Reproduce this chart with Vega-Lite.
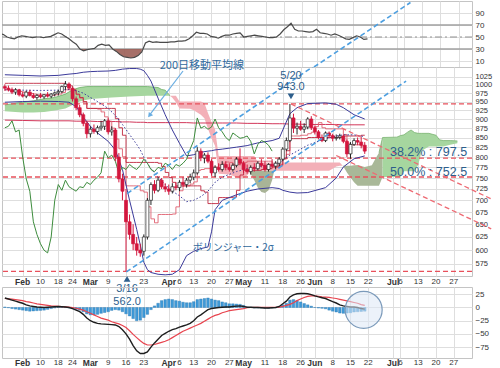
{
"$schema":"https://vega.github.io/schema/vega-lite/v6.json",
"padding":0,
"background":"white",
"config":{"view":{"stroke":"#c4c4c4"},"axis":{"labelFont":"Liberation Sans","labelFontSize":8,"labelColor":"#333","gridColor":"#dedede","ticks":false,"domain":false,"labelOverlap":false,"tickCount":100}},
"datasets":{
"d":[
{"i":-5,"o":995,"h":1002,"l":982,"c":990,"ck":876,"tk":985,"kj":1005,"rsi":56,"m":18,"s":17,"hist":1},
{"i":-4,"o":990,"h":998,"l":980,"c":985,"ck":880,"tk":985,"kj":1005,"rsi":54,"m":16,"s":16.5,"hist":-0.5},
{"i":-3,"o":985,"h":992,"l":972,"c":978,"ck":895,"tk":984,"kj":1005,"rsi":50,"m":14,"s":16,"hist":-2},
{"i":-2,"o":978,"h":990,"l":970,"c":985,"ck":865,"tk":982,"kj":1005,"rsi":48,"m":12,"s":15,"hist":-3},
{"i":-1,"o":985,"h":988,"l":965,"c":970,"ck":870,"tk":980,"kj":1005,"rsi":47,"m":10,"s":14,"hist":-4},
{"i":0,"o":970,"h":978,"l":962,"c":966,"ck":800,"tk":978,"kj":1005,"rsi":50,"m":8,"s":13,"hist":-5},
{"i":1,"o":966,"h":982,"l":960,"c":978,"ck":748,"tk":976,"kj":1005,"rsi":52,"m":5,"s":11,"hist":-6},
{"i":2,"o":978,"h":985,"l":965,"c":968,"ck":720,"tk":974,"kj":1005,"rsi":51,"m":3,"s":10,"hist":-7},
{"i":3,"o":968,"h":975,"l":958,"c":962,"ck":655,"tk":972,"kj":1005,"rsi":50,"m":2,"s":8.5,"hist":-6.5},
{"i":4,"o":962,"h":972,"l":955,"c":968,"ck":630,"tk":970,"kj":1005,"rsi":49,"m":1,"s":7,"hist":-6},
{"i":5,"o":968,"h":975,"l":960,"c":964,"ck":612,"tk":970,"kj":1005,"rsi":50,"m":0.5,"s":6,"hist":-5.5},
{"i":6,"o":964,"h":972,"l":958,"c":970,"ck":600,"tk":970,"kj":1005,"rsi":50,"m":0,"s":5,"hist":-5},
{"i":7,"o":970,"h":978,"l":962,"c":966,"ck":595,"tk":970,"kj":1005,"rsi":49,"m":0.5,"s":4,"hist":-3.5},
{"i":8,"o":966,"h":975,"l":960,"c":972,"ck":625,"tk":968,"kj":1005,"rsi":50,"m":1,"s":3,"hist":-2},
{"i":9,"o":972,"h":980,"l":965,"c":976,"ck":700,"tk":970,"kj":1005,"rsi":51,"m":1.5,"s":2.5,"hist":-1},
{"i":10,"o":976,"h":985,"l":968,"c":980,"ck":735,"tk":972,"kj":1005,"rsi":54,"m":2,"s":2,"hist":0},
{"i":11,"o":980,"h":998,"l":975,"c":995,"ck":722,"tk":977,"kj":1005,"rsi":57,"m":1.5,"s":1.5,"hist":0},
{"i":12,"o":995,"h":1012,"l":985,"c":1003,"ck":745,"tk":985,"kj":1000,"rsi":55,"m":1,"s":1.2,"hist":-0.2},
{"i":13,"o":1003,"h":1008,"l":985,"c":990,"ck":730,"tk":985,"kj":997,"rsi":51,"m":0,"s":0.8,"hist":-0.8},
{"i":14,"o":990,"h":992,"l":950,"c":958,"ck":725,"tk":983,"kj":985,"rsi":47,"m":-2,"s":0,"hist":-2},
{"i":15,"o":958,"h":965,"l":925,"c":932,"ck":720,"tk":970,"kj":972,"rsi":42,"m":-5,"s":-1.5,"hist":-3.5},
{"i":16,"o":932,"h":940,"l":905,"c":912,"ck":730,"tk":960,"kj":962,"rsi":38,"m":-8,"s":-3,"hist":-5},
{"i":17,"o":912,"h":918,"l":880,"c":888,"ck":728,"tk":946,"kj":950,"rsi":30,"m":-13,"s":-5,"hist":-8},
{"i":18,"o":888,"h":895,"l":848,"c":860,"ck":740,"tk":930,"kj":930,"rsi":27,"m":-20,"s":-8,"hist":-12},
{"i":19,"o":860,"h":880,"l":850,"c":872,"ck":735,"tk":930,"kj":930,"rsi":29,"m":-25,"s":-11,"hist":-14},
{"i":20,"o":872,"h":885,"l":860,"c":866,"ck":745,"tk":930,"kj":930,"rsi":30,"m":-28,"s":-14,"hist":-14},
{"i":21,"o":866,"h":882,"l":858,"c":876,"ck":752,"tk":928,"kj":930,"rsi":31,"m":-30,"s":-17,"hist":-13},
{"i":22,"o":876,"h":895,"l":868,"c":880,"ck":762,"tk":920,"kj":930,"rsi":36,"m":-31,"s":-20,"hist":-11},
{"i":23,"o":880,"h":900,"l":870,"c":895,"ck":815,"tk":906,"kj":930,"rsi":38,"m":-31.5,"s":-22,"hist":-9.5},
{"i":24,"o":895,"h":902,"l":858,"c":865,"ck":798,"tk":894,"kj":930,"rsi":36,"m":-32,"s":-24,"hist":-8},
{"i":25,"o":865,"h":880,"l":855,"c":870,"ck":805,"tk":875,"kj":930,"rsi":37,"m":-32.5,"s":-27,"hist":-5.5},
{"i":26,"o":870,"h":875,"l":790,"c":800,"ck":790,"tk":846,"kj":901,"rsi":30,"m":-33,"s":-29,"hist":-4},
{"i":27,"o":800,"h":810,"l":740,"c":748,"ck":762,"tk":821,"kj":876,"rsi":26,"m":-36,"s":-31,"hist":-5},
{"i":28,"o":748,"h":760,"l":700,"c":720,"ck":775,"tk":801,"kj":856,"rsi":21,"m":-42,"s":-34,"hist":-8},
{"i":29,"o":700,"h":725,"l":562,"c":655,"ck":770,"tk":732,"kj":787,"rsi":17,"m":-50,"s":-38,"hist":-12},
{"i":30,"o":655,"h":670,"l":620,"c":630,"ck":782,"tk":732,"kj":787,"rsi":16,"m":-60,"s":-44,"hist":-16},
{"i":31,"o":630,"h":650,"l":600,"c":612,"ck":775,"tk":732,"kj":787,"rsi":15,"m":-72,"s":-51,"hist":-21},
{"i":32,"o":612,"h":625,"l":590,"c":600,"ck":770,"tk":732,"kj":787,"rsi":16,"m":-82,"s":-57,"hist":-25},
{"i":33,"o":600,"h":612,"l":588,"c":595,"ck":780,"tk":721,"kj":787,"rsi":19,"m":-87,"s":-63,"hist":-24},
{"i":34,"o":598,"h":630,"l":590,"c":625,"ck":795,"tk":718,"kj":787,"rsi":25,"m":-87,"s":-68,"hist":-19},
{"i":35,"o":625,"h":705,"l":620,"c":700,"ck":785,"tk":686,"kj":787,"rsi":40,"m":-84,"s":-71,"hist":-13},
{"i":36,"o":700,"h":740,"l":690,"c":735,"ck":770,"tk":661,"kj":787,"rsi":43,"m":-75,"s":-71,"hist":-4},
{"i":37,"o":735,"h":745,"l":715,"c":722,"ck":765,"tk":653,"kj":787,"rsi":41,"m":-67,"s":-70,"hist":3},
{"i":38,"o":722,"h":752,"l":718,"c":745,"ck":775,"tk":670,"kj":785,"rsi":42,"m":-60,"s":-68,"hist":8},
{"i":39,"o":745,"h":750,"l":725,"c":730,"ck":772,"tk":670,"kj":777,"rsi":41,"m":-53,"s":-66,"hist":13},
{"i":40,"o":730,"h":738,"l":718,"c":725,"ck":785,"tk":670,"kj":763,"rsi":41,"m":-49,"s":-64,"hist":15},
{"i":41,"o":725,"h":735,"l":712,"c":720,"ck":780,"tk":670,"kj":751,"rsi":41,"m":-45,"s":-61,"hist":16},
{"i":42,"o":720,"h":738,"l":715,"c":730,"ck":770,"tk":671,"kj":740,"rsi":42,"m":-42,"s":-57,"hist":15},
{"i":43,"o":730,"h":740,"l":722,"c":728,"ck":782,"tk":686,"kj":732,"rsi":42,"m":-40,"s":-53,"hist":13},
{"i":44,"o":728,"h":745,"l":720,"c":740,"ck":778,"tk":721,"kj":732,"rsi":43,"m":-37,"s":-49,"hist":12},
{"i":45,"o":740,"h":752,"l":730,"c":735,"ck":785,"tk":732,"kj":732,"rsi":43,"m":-35,"s":-45,"hist":10},
{"i":46,"o":735,"h":750,"l":728,"c":745,"ck":795,"tk":732,"kj":732,"rsi":44,"m":-33,"s":-42,"hist":9},
{"i":47,"o":745,"h":760,"l":738,"c":752,"ck":820,"tk":736,"kj":732,"rsi":47,"m":-30,"s":-39,"hist":9},
{"i":48,"o":752,"h":770,"l":745,"c":762,"ck":842,"tk":741,"kj":732,"rsi":52,"m":-25,"s":-36,"hist":11},
{"i":49,"o":762,"h":825,"l":758,"c":815,"ck":903,"tk":768,"kj":732,"rsi":58,"m":-18,"s":-33,"hist":15},
{"i":50,"o":815,"h":822,"l":790,"c":798,"ck":875,"tk":770,"kj":721,"rsi":56,"m":-14,"s":-30,"hist":16},
{"i":51,"o":798,"h":810,"l":785,"c":805,"ck":880,"tk":772,"kj":718,"rsi":56,"m":-9,"s":-26,"hist":17},
{"i":52,"o":805,"h":812,"l":785,"c":790,"ck":872,"tk":772,"kj":693,"rsi":55,"m":-4,"s":-22,"hist":18},
{"i":53,"o":790,"h":795,"l":755,"c":762,"ck":878,"tk":776,"kj":693,"rsi":51,"m":-2,"s":-18,"hist":16},
{"i":54,"o":762,"h":780,"l":752,"c":775,"ck":900,"tk":776,"kj":693,"rsi":50,"m":-1,"s":-15,"hist":14},
{"i":55,"o":775,"h":785,"l":765,"c":770,"ck":876,"tk":781,"kj":706,"rsi":48,"m":0,"s":-13,"hist":13},
{"i":56,"o":770,"h":790,"l":765,"c":782,"ck":865,"tk":785,"kj":706,"rsi":51,"m":0.5,"s":-10,"hist":10.5},
{"i":57,"o":782,"h":790,"l":768,"c":775,"ck":850,"tk":788,"kj":706,"rsi":53,"m":1,"s":-8,"hist":9},
{"i":58,"o":775,"h":785,"l":765,"c":770,"ck":842,"tk":787,"kj":706,"rsi":53,"m":1,"s":-6,"hist":7},
{"i":59,"o":770,"h":785,"l":765,"c":780,"ck":862,"tk":782,"kj":707,"rsi":55,"m":2,"s":-5,"hist":7},
{"i":60,"o":780,"h":800,"l":775,"c":795,"ck":855,"tk":782,"kj":722,"rsi":56,"m":2.5,"s":-4,"hist":6.5},
{"i":61,"o":795,"h":822,"l":780,"c":785,"ck":848,"tk":787,"kj":757,"rsi":57,"m":3,"s":-3,"hist":6},
{"i":62,"o":785,"h":790,"l":762,"c":770,"ck":850,"tk":787,"kj":768,"rsi":50,"m":2,"s":-2,"hist":4},
{"i":63,"o":770,"h":782,"l":760,"c":765,"ck":854,"tk":790,"kj":768,"rsi":51,"m":0.5,"s":-0.5,"hist":1},
{"i":64,"o":765,"h":780,"l":758,"c":775,"ck":840,"tk":790,"kj":768,"rsi":52,"m":0.5,"s":0,"hist":0.5},
{"i":65,"o":775,"h":785,"l":765,"c":772,"ck":808,"tk":790,"kj":768,"rsi":53,"m":0,"s":0.5,"hist":-1},
{"i":66,"o":772,"h":790,"l":768,"c":785,"ck":832,"tk":790,"kj":768,"rsi":52,"m":0,"s":0.5,"hist":-1},
{"i":67,"o":785,"h":795,"l":775,"c":780,"ck":842,"tk":790,"kj":770,"rsi":51,"m":-0.5,"s":0.5,"hist":-1},
{"i":68,"o":780,"h":790,"l":765,"c":770,"ck":838,"tk":790,"kj":772,"rsi":50,"m":-1,"s":0.5,"hist":-1.5},
{"i":69,"o":770,"h":785,"l":765,"c":782,"ck":830,"tk":790,"kj":772,"rsi":49,"m":-1,"s":0.5,"hist":-1.5},
{"i":70,"o":782,"h":795,"l":775,"c":778,"ck":815,"tk":776,"kj":776,"rsi":49,"m":-0.5,"s":0.5,"hist":-1},
{"i":71,"o":778,"h":790,"l":770,"c":785,"tk":776,"kj":776,"rsi":50,"m":0,"s":0.5,"hist":-0.5},
{"i":72,"o":785,"h":800,"l":778,"c":795,"tk":779,"kj":781,"rsi":55,"m":2,"s":0.8,"hist":1.2},
{"i":73,"o":795,"h":825,"l":790,"c":820,"tk":795,"kj":797,"rsi":62,"m":7,"s":2,"hist":5},
{"i":74,"o":820,"h":850,"l":815,"c":842,"tk":807,"kj":816,"rsi":67,"m":12,"s":4,"hist":8},
{"i":75,"o":842,"h":943,"l":838,"c":903,"tk":854,"kj":847,"rsi":73,"m":20,"s":6,"hist":14},
{"i":76,"o":903,"h":915,"l":862,"c":875,"tk":854,"kj":847,"rsi":63,"m":24,"s":9,"hist":15},
{"i":77,"o":875,"h":890,"l":858,"c":880,"tk":854,"kj":847,"rsi":60,"m":26,"s":13,"hist":13},
{"i":78,"o":880,"h":895,"l":868,"c":872,"tk":856,"kj":847,"rsi":60,"m":26.5,"s":16,"hist":10.5},
{"i":79,"o":872,"h":888,"l":862,"c":878,"tk":856,"kj":847,"rsi":59,"m":26.5,"s":19,"hist":7.5},
{"i":80,"o":878,"h":905,"l":872,"c":900,"tk":860,"kj":850,"rsi":58,"m":26,"s":21,"hist":5},
{"i":81,"o":900,"h":908,"l":870,"c":876,"tk":864,"kj":850,"rsi":59,"m":24.5,"s":22,"hist":2.5},
{"i":82,"o":876,"h":882,"l":858,"c":865,"tk":879,"kj":850,"rsi":63,"m":22,"s":22,"hist":0},
{"i":83,"o":865,"h":870,"l":845,"c":850,"tk":890,"kj":850,"rsi":57,"m":20,"s":21,"hist":-1},
{"i":84,"o":850,"h":858,"l":838,"c":842,"tk":876,"kj":850,"rsi":56,"m":18.5,"s":20,"hist":-1.5},
{"i":85,"o":842,"h":866,"l":838,"c":862,"tk":873,"kj":850,"rsi":55,"m":17,"s":19.5,"hist":-2.5},
{"i":86,"o":862,"h":866,"l":848,"c":855,"tk":873,"kj":850,"rsi":53,"m":14,"s":19,"hist":-5},
{"i":87,"o":855,"h":860,"l":840,"c":848,"tk":873,"kj":850,"rsi":55,"m":11,"s":18,"hist":-7},
{"i":88,"o":848,"h":858,"l":842,"c":850,"tk":873,"kj":850,"rsi":53,"m":8.5,"s":17,"hist":-8.5},
{"i":89,"o":850,"h":860,"l":845,"c":854,"tk":873,"kj":850,"rsi":50,"m":5,"s":15.5,"hist":-10.5},
{"i":90,"o":854,"h":858,"l":835,"c":840,"tk":858,"kj":854,"rsi":47,"m":3,"s":14,"hist":-11},
{"i":91,"o":840,"h":845,"l":800,"c":808,"tk":835,"kj":854,"rsi":46,"m":2,"s":12.5,"hist":-10.5},
{"i":92,"o":808,"h":838,"l":796,"c":832,"tk":831,"kj":854,"rsi":49,"m":1,"s":11,"hist":-10},
{"i":93,"o":832,"h":848,"l":828,"c":842,"tk":831,"kj":854,"rsi":52,"m":1,"s":9.5,"hist":-8.5},
{"i":94,"o":842,"h":850,"l":830,"c":838,"tk":831,"kj":854,"rsi":50,"m":0,"s":8,"hist":-8},
{"i":95,"o":838,"h":852,"l":822,"c":830,"tk":828,"kj":856,"rsi":46,"m":-2,"s":5.5,"hist":-7.5},
{"i":96,"o":830,"h":838,"l":808,"c":815,"tk":827,"kj":856,"rsi":47,"m":-3,"s":4,"hist":-7}
],
"k":[
{"i":-5,"a":940,"b":922,"lo":922,"pb":922},{"i":-2,"a":945,"b":920,"lo":920,"pb":920},{"i":0,"a":948,"b":918,"lo":918,"pb":918},{"i":3,"a":952,"b":918,"lo":918,"pb":918},
{"i":6,"a":958,"b":920,"lo":920,"pb":920},{"i":9,"a":962,"b":924,"lo":924,"pb":924},{"i":12,"a":972,"b":930,"lo":930,"pb":930},{"i":14,"a":985,"b":940,"lo":940,"pb":940},
{"i":16,"a":992,"b":950,"lo":950,"pb":950},{"i":18,"a":995,"b":955,"lo":955,"pb":955},{"i":20,"a":995,"b":958,"lo":958,"pb":958},{"i":25,"a":995,"b":962,"lo":962,"pb":962},
{"i":30,"a":995,"b":965,"lo":965,"pb":965},{"i":35,"a":995,"b":967,"lo":967,"pb":967},{"i":38,"a":992,"b":967,"lo":967,"pb":967},{"i":39,"a":986,"b":967,"lo":967,"pb":967},
{"i":40,"a":984,"b":967,"lo":967,"pb":967},{"i":41,"a":971,"b":967,"lo":967,"pb":967},{"i":41.4,"a":967,"b":967,"lo":967,"pb":967},{"i":42,"a":961,"b":967,"lo":961,"pb":961},
{"i":43,"a":948,"b":967,"lo":948,"pb":948},{"i":44,"a":930,"b":950,"lo":930,"pb":930},{"i":47,"a":929,"b":950,"lo":929,"pb":929},{"i":48,"a":925,"b":950,"lo":925,"pb":925},
{"i":49,"a":918,"b":950,"lo":918,"pb":918},{"i":50,"a":912,"b":950,"lo":912,"pb":912},{"i":51,"a":902,"b":946,"lo":902,"pb":902},{"i":52,"a":873,"b":917,"lo":873,"pb":873},
{"i":53,"a":848,"b":892,"lo":848,"pb":848},{"i":54,"a":828,"b":872,"lo":828,"pb":828},{"i":55,"a":760,"b":803,"lo":760,"pb":760},{"i":58,"a":760,"b":803,"lo":760,"pb":758},
{"i":60,"a":752,"b":803,"lo":752,"pb":752},{"i":62,"a":724,"b":803,"lo":724,"pb":750},{"i":63,"a":720,"b":803,"lo":720,"pb":756},{"i":64,"a":727,"b":803,"lo":727,"pb":767},
{"i":65,"a":723,"b":803,"lo":723,"pb":767},{"i":66,"a":716,"b":787,"lo":716,"pb":767},{"i":70,"a":726,"b":787,"lo":726,"pb":767},{"i":86,"a":767,"b":787,"lo":767,"pb":767},
{"i":87,"a":772,"b":787,"lo":772,"pb":772},{"i":88,"a":777,"b":787,"lo":777,"pb":777},{"i":89,"a":779,"b":787,"lo":779,"pb":779},
{"i":89.8,"a":779,"b":779,"lo":779,"pb":779},{"i":90,"a":779,"b":777,"lo":777,"pb":777},{"i":91,"a":779,"b":763,"lo":763,"pb":763},{"i":92,"a":779,"b":751,"lo":751,"pb":751},
{"i":93,"a":780,"b":740,"lo":740,"pb":740},{"i":94,"a":781,"b":732,"lo":732,"pb":732},{"i":96,"a":776,"b":732,"lo":732,"pb":732},{"i":98,"a":780,"b":732,"lo":732,"pb":732},
{"i":99,"a":796,"b":732,"lo":732,"pb":732},{"i":100,"a":811,"b":732,"lo":732,"pb":732},{"i":101,"a":850,"b":752.5,"lo":752.5,"pb":752.5},{"i":105,"a":851,"b":752.5,"lo":752.5,"pb":752.5},
{"i":106,"a":855,"b":752.5,"lo":752.5,"pb":752.5},{"i":107,"a":857,"b":766,"lo":766,"pb":766},{"i":108,"a":864,"b":766,"lo":766,"pb":766},{"i":109,"a":870,"b":766,"lo":766,"pb":766},
{"i":110,"a":863,"b":766,"lo":766,"pb":766},{"i":111,"a":861,"b":781,"lo":781,"pb":781},{"i":112,"a":861,"b":816,"lo":816,"pb":816},{"i":114,"a":861,"b":827,"lo":827,"pb":827},
{"i":116,"a":856,"b":827,"lo":827,"pb":827},{"i":117,"a":844,"b":827,"lo":827,"pb":827},{"i":118,"a":842,"b":827,"lo":827,"pb":827},{"i":120,"a":842,"b":831,"lo":831,"pb":831},
{"i":122,"a":841,"b":835,"lo":835,"pb":835}
],
"olv":[
{"i":63.5,"t":767,"u":767},{"i":65,"t":767,"u":745},{"i":66,"t":767,"u":728},{"i":67,"t":767,"u":718},{"i":68,"t":767,"u":716},{"i":69,"t":767,"u":722},{"i":70,"t":767,"u":745},{"i":70.6,"t":767,"u":767}
],
"b":[
{"i":-5,"up":1032,"mid":985,"lo":948,"ma":897},{"i":0,"up":1030,"mid":984,"lo":950,"ma":896},{"i":5,"up":1028,"mid":983,"lo":951,"ma":895},
{"i":10,"up":1030,"mid":984,"lo":950,"ma":895},{"i":13,"up":1034,"mid":986,"lo":948,"ma":895},{"i":15,"up":1036,"mid":982,"lo":935,"ma":894},
{"i":17,"up":1040,"mid":975,"lo":905,"ma":894},{"i":19,"up":1042,"mid":962,"lo":880,"ma":894},{"i":21,"up":1043,"mid":950,"lo":862,"ma":893},
{"i":24,"up":1044,"mid":930,"lo":840,"ma":893},{"i":26,"up":1046,"mid":910,"lo":818,"ma":893},{"i":28,"up":1050,"mid":885,"lo":770,"ma":892},
{"i":30,"up":1052,"mid":858,"lo":700,"ma":892},{"i":32,"up":1052,"mid":832,"lo":640,"ma":891},{"i":33,"up":1050,"mid":818,"lo":610,"ma":891},
{"i":34,"up":1045,"mid":800,"lo":578,"ma":891},{"i":35,"up":1030,"mid":785,"lo":565,"ma":890},{"i":36,"up":1012,"mid":772,"lo":560,"ma":890},
{"i":38,"up":960,"mid":752,"lo":557,"ma":890},{"i":40,"up":912,"mid":735,"lo":556,"ma":890},{"i":42,"up":870,"mid":720,"lo":557,"ma":890},
{"i":44,"up":835,"mid":710,"lo":565,"ma":890},{"i":46,"up":803,"mid":697,"lo":590,"ma":890},{"i":48,"up":806,"mid":700,"lo":598,"ma":889},
{"i":50,"up":812,"mid":708,"lo":603,"ma":889},{"i":52,"up":815,"mid":720,"lo":606,"ma":889},{"i":53,"up":816,"mid":730,"lo":635,"ma":889},
{"i":54,"up":818,"mid":740,"lo":680,"ma":889},{"i":56,"up":820,"mid":752,"lo":700,"ma":889},{"i":60,"up":825,"mid":765,"lo":712,"ma":889},
{"i":63,"up":829,"mid":772,"lo":720,"ma":888},{"i":66,"up":836,"mid":777,"lo":725,"ma":888},{"i":70,"up":842,"mid":782,"lo":728,"ma":887},
{"i":72,"up":848,"mid":786,"lo":726,"ma":887},{"i":73,"up":870,"mid":792,"lo":722,"ma":887},{"i":75,"up":915,"mid":805,"lo":718,"ma":886},
{"i":77,"up":932,"mid":815,"lo":716,"ma":886},{"i":80,"up":944,"mid":830,"lo":717,"ma":885},{"i":85,"up":946,"mid":847,"lo":728,"ma":885},
{"i":88,"up":942,"mid":854,"lo":750,"ma":885},{"i":90,"up":932,"mid":857,"lo":776,"ma":884},{"i":93,"up":912,"mid":857,"lo":796,"ma":884},
{"i":96,"up":900,"mid":852,"lo":803,"ma":884}
],
"ln":[
{"g":"bu","i":29.35,"p":715},{"g":"bu","i":107.8,"p":1290},
{"g":"bl","i":29.1,"p":561},{"g":"bl","i":107.6,"p":1012}
],
"fib":[
{"g":"ra","i":75.3,"p":943},{"g":"ra","i":131.5,"p":703},
{"g":"rb","i":88,"p":804},{"g":"rb","i":131.5,"p":641}
],
"mon":[{"i":0,"t":"Feb"},{"i":19,"t":"Mar"},{"i":41,"t":"Apr"},{"i":62,"t":"May"},{"i":82,"t":"Jun"},{"i":104,"t":"Jul"}],
"day":[{"i":5,"t":"10"},{"i":10,"t":"18"},{"i":14,"t":"24"},{"i":24,"t":"9"},{"i":29,"t":"16"},{"i":34,"t":"23"},{"i":44,"t":"6"},{"i":48,"t":"13"},{"i":53,"t":"20"},{"i":58,"t":"27"},{"i":68,"t":"11"},{"i":73,"t":"18"},{"i":78,"t":"26"},{"i":87,"t":"8"},{"i":92,"t":"15"},{"i":97,"t":"22"},{"i":106,"t":"6"},{"i":111,"t":"13"},{"i":116,"t":"20"},{"i":121,"t":"27"}]
},
"vconcat":[
{
"width":470,"height":66,
"layer":[
{"data":{"values":[{"v":30},{"v":70}]},"mark":{"type":"rule","color":"#a0a0a0","strokeWidth":1.6},
 "encoding":{"y":{"field":"v","type":"quantitative","scale":{"domain":[0,110],"nice":false},"title":null,"axis":{"orient":"right","values":[10,30,50,70,90],"grid":true,"labelPadding":3,"tickCount":100,"labelOverlap":false}}}},
{"data":{"values":[{"v":50}]},"mark":{"type":"rule","color":"#909090","strokeWidth":1,"strokeDash":[7,3,2,3]},"encoding":{"y":{"field":"v","type":"quantitative","title":null}}},
{"data":{"name":"d"},"transform":[{"filter":"datum.rsi <= 30"}],"mark":{"type":"area","color":"#9c5f58","opacity":0.9},
 "encoding":{"x":{"field":"i","type":"quantitative","scale":{"domain":[-4.4,124.7],"nice":false,"zero":false},"title":null,"axis":{"values":[0,5,10,14,19,24,29,34,41,44,48,53,58,62,68,73,78,82,87,92,97,104,106,111,116,121],"labels":false,"grid":true,"tickCount":100}},
  "y":{"field":"rsi","type":"quantitative","title":null},"y2":{"datum":30}}},
{"data":{"name":"d"},"mark":{"type":"line","color":"#4a4a4a","strokeWidth":1.2,"clip":true},
 "encoding":{"x":{"field":"i","type":"quantitative","title":null},"y":{"field":"rsi","type":"quantitative","title":null}}},
{"data":{"values":[{"i":81.3,"v":0},{"i":107.8,"v":107.5}]},"mark":{"type":"line","color":"#4d9fe0","strokeWidth":1.6,"strokeDash":[5,3],"clip":true},
 "encoding":{"x":{"field":"i","type":"quantitative","title":null},"y":{"field":"v","type":"quantitative","title":null}}}
]
},
{
"width":470,"height":209,
"layer":[
{"data":{"name":"k"},"mark":{"type":"area","color":"#f3b0b8","clip":true},
 "encoding":{"x":{"field":"i","type":"quantitative","scale":{"domain":[-4.4,124.7],"nice":false,"zero":false},"title":null,
   "axis":{"values":[0,5,10,14,19,24,29,34,41,44,48,53,58,62,68,73,78,82,87,92,97,104,106,111,116,121],"grid":true,"labels":false,"tickCount":100}},
  "y":{"field":"b","type":"quantitative","scale":{"type":"log","domain":[554,1057],"nice":false},"title":null,
   "axis":{"orient":"right","values":[575,600,625,650,675,700,725,750,775,800,825,850,875,900,925,950,975,1000,1025],"format":"d","grid":true,"labelPadding":3,"labelFontSize":7.5,"tickCount":100,"labelOverlap":false}},
  "y2":{"field":"pb"}}},
{"data":{"name":"olv"},"mark":{"type":"area","color":"#a9b497","clip":true},
 "encoding":{"x":{"field":"i","type":"quantitative","title":null},"y":{"field":"t","type":"quantitative","title":null},"y2":{"field":"u"}}},
{"data":{"name":"k"},"transform":[{"filter":"datum.i <= 41.4"}],"mark":{"type":"area","color":"#a6d69f","clip":true},
 "encoding":{"x":{"field":"i","type":"quantitative","title":null},"y":{"field":"a","type":"quantitative","title":null},"y2":{"field":"lo"}}},
{"data":{"name":"k"},"transform":[{"filter":"datum.i >= 89.8 && datum.i <= 101"}],"mark":{"type":"area","color":"#a9b898","clip":true},
 "encoding":{"x":{"field":"i","type":"quantitative","title":null},"y":{"field":"a","type":"quantitative","title":null},"y2":{"field":"lo"}}},
{"data":{"name":"k"},"transform":[{"filter":"datum.i >= 101"}],"mark":{"type":"area","color":"#a6d69f","clip":true},
 "encoding":{"x":{"field":"i","type":"quantitative","title":null},"y":{"field":"a","type":"quantitative","title":null},"y2":{"field":"lo"}}},
{"data":{"name":"k"},"transform":[{"filter":"datum.i <= 41.4"}],"mark":{"type":"line","color":"#6cae66","strokeWidth":0.8,"clip":true},
 "encoding":{"x":{"field":"i","type":"quantitative","title":null},"y":{"field":"a","type":"quantitative","title":null}}},
{"data":{"name":"k"},"transform":[{"filter":"datum.i >= 100"}],"mark":{"type":"line","color":"#7cb474","strokeWidth":0.8,"clip":true},
 "encoding":{"x":{"field":"i","type":"quantitative","title":null},"y":{"field":"a","type":"quantitative","title":null}}},
{"data":{"values":[{"p":943},{"p":797.5},{"p":752.5},{"p":562}]},"mark":{"type":"rule","color":"#e8505b","strokeWidth":1.4,"strokeDash":[5,3]},
 "encoding":{"y":{"field":"p","type":"quantitative","title":null}}},
{"data":{"name":"b"},"mark":{"type":"line","color":"#d2375a","strokeWidth":1,"clip":true},
 "encoding":{"x":{"field":"i","type":"quantitative","title":null},"y":{"field":"ma","type":"quantitative","title":null}}},
{"data":{"name":"d"},"mark":{"type":"line","color":"#e0606f","strokeWidth":0.9,"clip":true,"interpolate":"step-after"},
 "encoding":{"x":{"field":"i","type":"quantitative","title":null},"y":{"field":"tk","type":"quantitative","title":null}}},
{"data":{"name":"d"},"mark":{"type":"line","color":"#c0283f","strokeWidth":0.9,"clip":true,"interpolate":"step-after"},
 "encoding":{"x":{"field":"i","type":"quantitative","title":null},"y":{"field":"kj","type":"quantitative","title":null}}},
{"data":{"name":"b"},"mark":{"type":"line","color":"#3b3a9a","strokeWidth":1,"clip":true},
 "encoding":{"x":{"field":"i","type":"quantitative","title":null},"y":{"field":"up","type":"quantitative","title":null}}},
{"data":{"name":"b"},"mark":{"type":"line","color":"#3b3a9a","strokeWidth":1,"clip":true},
 "encoding":{"x":{"field":"i","type":"quantitative","title":null},"y":{"field":"lo","type":"quantitative","title":null}}},
{"data":{"name":"b"},"mark":{"type":"line","color":"#3b3a9a","strokeWidth":1,"strokeDash":[1.5,2],"clip":true},
 "encoding":{"x":{"field":"i","type":"quantitative","title":null},"y":{"field":"mid","type":"quantitative","title":null}}},
{"data":{"name":"d"},"mark":{"type":"line","color":"#3d8c3d","strokeWidth":1,"clip":true},
 "encoding":{"x":{"field":"i","type":"quantitative","title":null},"y":{"field":"ck","type":"quantitative","title":null}}},
{"data":{"name":"d"},"mark":{"type":"rule","strokeWidth":1,"clip":true},
 "encoding":{"x":{"field":"i","type":"quantitative","title":null},"y":{"field":"l","type":"quantitative","title":null},"y2":{"field":"h"},
  "color":{"condition":{"test":"datum.c < datum.o","value":"#d3163d"},"value":"#222222"}}},
{"data":{"name":"d"},"mark":{"type":"bar","size":3,"strokeWidth":0.7,"clip":true},
 "encoding":{"x":{"field":"i","type":"quantitative","title":null},"y":{"field":"o","type":"quantitative","title":null},"y2":{"field":"c"},
  "fill":{"condition":{"test":"datum.c < datum.o","value":"#d3163d"},"value":"#ffffff"},
  "stroke":{"condition":{"test":"datum.c < datum.o","value":"#d3163d"},"value":"#222222"}}},
{"data":{"name":"ln"},"mark":{"type":"line","color":"#4d9fe0","strokeWidth":1.6,"strokeDash":[5,3],"clip":true},
 "encoding":{"x":{"field":"i","type":"quantitative","title":null},"y":{"field":"p","type":"quantitative","title":null},"detail":{"field":"g"}}},
{"data":{"name":"fib"},"mark":{"type":"line","color":"#ee6a73","strokeWidth":1.3,"strokeDash":[5,3]},
 "encoding":{"x":{"field":"i","type":"quantitative","title":null},"y":{"field":"p","type":"quantitative","title":null},"detail":{"field":"g"}}},
{"data":{"values":[{"i":45.0,"p":1044},{"i":35.7,"p":912}]},"mark":{"type":"line","color":"#6aaee2","strokeWidth":1.2},
 "encoding":{"x":{"field":"i","type":"quantitative","title":null},"y":{"field":"p","type":"quantitative","title":null}}},
{"data":{"values":[{"i":35.6,"p":910}]},"mark":{"type":"point","shape":"triangle-up","angle":218,"size":30,"filled":true,"color":"#6aaee2","opacity":1},
 "encoding":{"x":{"field":"i","type":"quantitative","title":null},"y":{"field":"p","type":"quantitative","title":null}}},
{"data":{"values":[{"i":75.3,"p":965}]},"mark":{"type":"point","shape":"triangle-down","size":45,"filled":true,"color":"#2d5e8c","opacity":1},
 "encoding":{"x":{"field":"i","type":"quantitative","title":null},"y":{"field":"p","type":"quantitative","title":null}}},
{"data":{"values":[{"i":29.3,"p":549}]},"mark":{"type":"point","shape":"triangle-up","size":45,"filled":true,"color":"#2d5e8c","opacity":1},
 "encoding":{"x":{"field":"i","type":"quantitative","title":null},"y":{"field":"p","type":"quantitative","title":null}}},
{"data":{"values":[{"i":75.3,"p":1029,"t":"5/20"},{"i":75.3,"p":993,"t":"943.0"},{"i":29.3,"p":532,"t":"3/16"},{"i":29.3,"p":512,"t":"562.0"}]},
 "mark":{"type":"text","font":"Liberation Sans","fontSize":11,"color":"#2d5e8c","baseline":"middle","align":"center"},
 "encoding":{"x":{"field":"i","type":"quantitative","title":null},"y":{"field":"p","type":"quantitative","title":null},"text":{"field":"t"}}},
{"data":{"values":[{"i":113.9,"p":813,"t":"38.2% : 797.5"},{"i":113.9,"p":764,"t":"50.0% : 752.5"}]},
 "mark":{"type":"text","font":"Liberation Sans","fontSize":12.5,"color":"#2d5e8c","baseline":"middle","align":"center"},
 "encoding":{"x":{"field":"i","type":"quantitative","title":null},"y":{"field":"p","type":"quantitative","title":null},"text":{"field":"t"}}},
{"data":{"values":[{"i":50.3,"p":1060,"t":"200日移動平均線"}]},
 "mark":{"type":"text","font":"Noto Sans CJK JP","fontSize":11,"color":"#2f6a9e","baseline":"middle","align":"center"},
 "encoding":{"x":{"field":"i","type":"quantitative","title":null},"y":{"field":"p","type":"quantitative","title":null},"text":{"field":"t"}}},
{"data":{"values":[{"i":59.1,"p":604,"t":"ボリンジャー・2σ"}]},
 "mark":{"type":"text","font":"Noto Sans CJK JP","fontSize":10,"color":"#2f6a9e","baseline":"middle","align":"center"},
 "encoding":{"x":{"field":"i","type":"quantitative","title":null},"y":{"field":"p","type":"quantitative","title":null},"text":{"field":"t"}}},
{"data":{"name":"mon"},"mark":{"type":"text","font":"Liberation Sans","fontSize":8.5,"fontWeight":"bold","color":"#333","baseline":"middle","align":"center"},
 "encoding":{"x":{"field":"i","type":"quantitative","title":null},"y":{"datum":544},"text":{"field":"t"}}},
{"data":{"name":"day"},"transform":[{"filter":"datum.i != 29"}],"mark":{"type":"text","font":"Liberation Sans","fontSize":8,"color":"#333","baseline":"middle","align":"center"},
 "encoding":{"x":{"field":"i","type":"quantitative","title":null},"y":{"datum":544},"text":{"field":"t"}}}
]
},
{"width":470,"height":11,"data":{"values":[]},"mark":{"type":"point","opacity":0},"view":{"stroke":null}},
{
"width":470,"height":71,
"layer":[
{"data":{"name":"d"},"mark":{"type":"bar","size":2.6,"color":"#3f9ad8","stroke":"#2b78b3","strokeWidth":0.4,"clip":true},
 "encoding":{"x":{"field":"i","type":"quantitative","scale":{"domain":[-4.4,124.7],"nice":false,"zero":false},"title":null,
   "axis":{"values":[0,5,10,14,19,24,29,34,41,44,48,53,58,62,68,73,78,82,87,92,97,104,106,111,116,121],"grid":true,"labels":false,"tickCount":100}},
  "y":{"field":"hist","type":"quantitative","scale":{"domain":[-95.6,38.8],"nice":false},"title":null,"axis":{"orient":"right","values":[-75,-50,-25,0,25],"grid":true,"labelPadding":3,"tickCount":100,"labelOverlap":false}}}},
{"data":{"name":"d"},"mark":{"type":"line","color":"#e8444e","strokeWidth":1.2,"clip":true},
 "encoding":{"x":{"field":"i","type":"quantitative","title":null},"y":{"field":"s","type":"quantitative","title":null}}},
{"data":{"name":"d"},"mark":{"type":"line","color":"#1e1e1e","strokeWidth":1.4,"clip":true},
 "encoding":{"x":{"field":"i","type":"quantitative","title":null},"y":{"field":"m","type":"quantitative","title":null}}},
{"data":{"values":[{"i":95.7,"v":-4.4}]},"mark":{"type":"point","shape":"circle","size":1370,"filled":true,"fill":"#dce8f5","fillOpacity":0.55,"stroke":"#7b9aba","strokeWidth":1.2,"strokeOpacity":1},
 "encoding":{"x":{"field":"i","type":"quantitative","title":null},"y":{"field":"v","type":"quantitative","title":null}}},
{"data":{"name":"mon"},"mark":{"type":"text","font":"Liberation Sans","fontSize":8.5,"fontWeight":"bold","color":"#333","baseline":"middle","align":"center"},
 "encoding":{"x":{"field":"i","type":"quantitative","title":null},"y":{"datum":-106},"text":{"field":"t"}}},
{"data":{"name":"day"},"mark":{"type":"text","font":"Liberation Sans","fontSize":8,"color":"#333","baseline":"middle","align":"center"},
 "encoding":{"x":{"field":"i","type":"quantitative","title":null},"y":{"datum":-106},"text":{"field":"t"}}}
]
}
],
"spacing":0,
"bounds":"flush"
}
